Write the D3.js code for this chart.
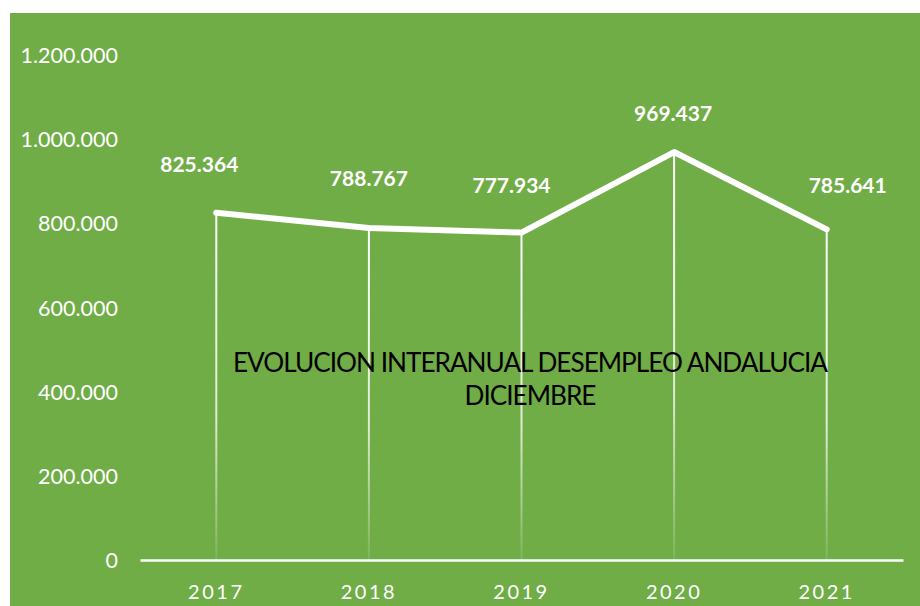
<!DOCTYPE html>
<html>
<head>
<meta charset="utf-8">
<script src="https://cdn.jsdelivr.net/npm/d3@7"></script>
<style>
  body { margin: 0; background: #fff; }
  svg { display: block; }
</style>
</head>
<body>
<svg id="chart" width="920" height="606"></svg>
<script>
var years = ["2017", "2018", "2019", "2020", "2021"];
var paro = [825364, 788767, 777934, 969437, 785641];
var yTicks = [0, 200000, 400000, 600000, 800000, 1000000, 1200000];
var titleLines = ["EVOLUCION INTERANUAL DESEMPLEO ANDALUCIA", "DICIEMBRE"];

// label nudges (Excel-style manual placement), pixels
var labelDx = [-17, 0, -10, -1, 21];
var labelDy = [-41, -42, -40, -31, -36];

var width = 920;
var height = 606;
var svg = d3.select("#chart");

var plot = { l: 140, r: 903, t: 55, b: 560 };

// spanish number format: 1.200.000
var fmt = d3.formatLocale({ decimal: ",", thousands: ".", grouping: [3], currency: ["", "€"] }).format(",d");

// green card
svg.append("rect")
    .attr("x", 10)
    .attr("y", 13)
    .attr("width", width - 10)
    .attr("height", height - 13)
    .attr("fill", "#70AD47");

var xScale = d3.scaleBand().domain(years).range([plot.l, plot.r]);
var yScale = d3.scaleLinear().domain([0, 1200000]).range([plot.b, plot.t]);

// gradient for drop lines
var defs = svg.append("defs");
var grad = defs.append("linearGradient")
    .attr("id", "dropGrad")
    .attr("x1", 0).attr("y1", 0)
    .attr("x2", 0).attr("y2", 1);
grad.append("stop").attr("offset", "0%").attr("stop-color", "#fff").attr("stop-opacity", 1);
grad.append("stop").attr("offset", "60%").attr("stop-color", "#fff").attr("stop-opacity", 0.75);
grad.append("stop").attr("offset", "100%").attr("stop-color", "#fff").attr("stop-opacity", 0.1);

// y axis labels
var yAxis = d3.axisLeft(yScale)
    .tickValues(yTicks)
    .tickFormat(fmt)
    .tickSize(0)
    .tickPadding(0);

var yG = svg.append("g")
    .attr("transform", "translate(118,0)")
    .call(yAxis);
yG.select(".domain").remove();
yG.selectAll("text")
    .attr("fill", "#fff")
    .attr("dy", "0.35em")
    .style("font-family", "Lato, 'Open Sans', sans-serif")
    .style("font-size", "21.5px");

// drop lines
svg.selectAll(".drop")
    .data(paro)
    .enter()
    .append("rect")
    .attr("class", "drop")
    .attr("x", (d, i) => xScale(years[i]) + xScale.bandwidth() / 2 - 1)
    .attr("y", d => yScale(d))
    .attr("width", 2)
    .attr("height", d => plot.b - yScale(d))
    .attr("fill", "url(#dropGrad)");

// x axis
var xAxis = d3.axisBottom(xScale).tickSize(0).tickPadding(0);
var xG = svg.append("g")
    .attr("transform", "translate(0," + plot.b + ")")
    .call(xAxis);
xG.select(".domain")
    .attr("stroke", "#fff")
    .attr("stroke-width", 2.5);
xG.selectAll("text")
    .attr("fill", "#fff")
    .attr("y", 39)
    .attr("dy", 0)
    .style("font-family", "Lato, 'Open Sans', sans-serif")
    .style("font-size", "20px")
    .style("letter-spacing", "2.5px");

// line
var line = d3.line()
    .x((d, i) => xScale(years[i]) + xScale.bandwidth() / 2)
    .y(d => yScale(d));

svg.append("path")
    .datum(paro)
    .attr("d", line)
    .attr("fill", "none")
    .attr("stroke", "#fff")
    .attr("stroke-width", 6)
    .attr("stroke-linejoin", "round")
    .attr("stroke-linecap", "round");

// data labels
svg.selectAll(".lbl")
    .data(paro)
    .enter()
    .append("text")
    .attr("class", "lbl")
    .attr("x", (d, i) => xScale(years[i]) + xScale.bandwidth() / 2 + labelDx[i])
    .attr("y", (d, i) => yScale(d) + labelDy[i])
    .attr("text-anchor", "middle")
    .attr("fill", "#fff")
    .style("font-family", "Lato, 'Open Sans', sans-serif")
    .style("font-weight", "bold")
    .style("font-size", "21px")
    .text(d => fmt(d));

// title
svg.selectAll(".title")
    .data(titleLines)
    .enter()
    .append("text")
    .attr("class", "title")
    .attr("x", 530)
    .attr("y", (d, i) => 372 + i * 33)
    .attr("text-anchor", "middle")
    .attr("fill", "#000")
    .attr("textLength", (d, i) => i === 0 ? 594 : 131)
    .attr("lengthAdjust", "spacingAndGlyphs")
    .style("font-family", "Lato, 'Open Sans', sans-serif")
    .style("font-size", "26px")
    .style("letter-spacing", "-1px")
    .text(d => d);
</script>
</body>
</html>
